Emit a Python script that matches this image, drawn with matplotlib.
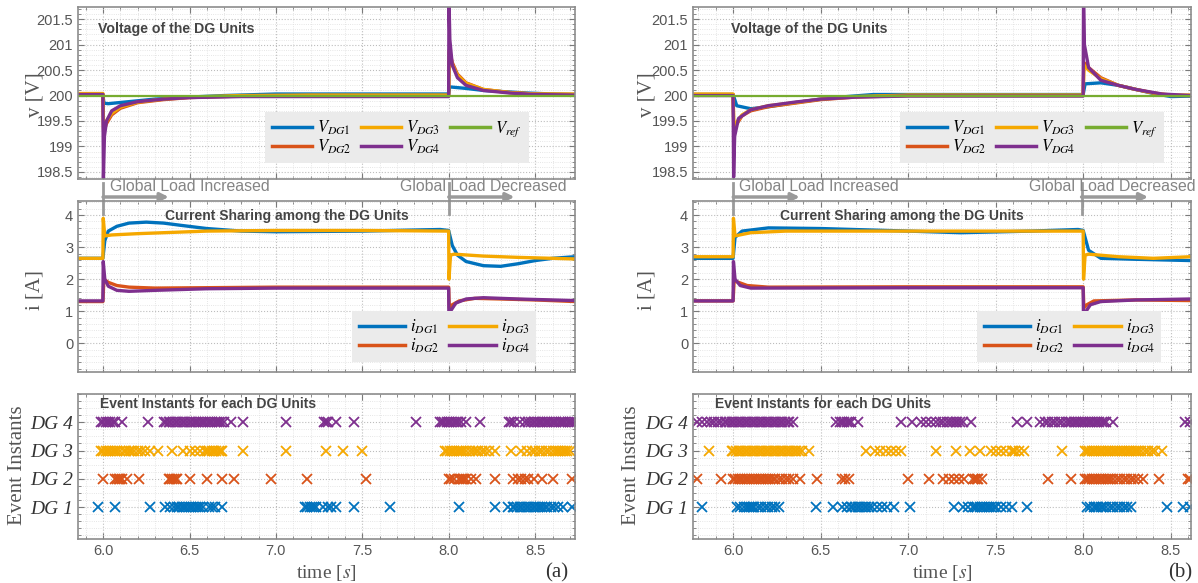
import numpy as np
import matplotlib.pyplot as plt
from matplotlib.ticker import MultipleLocator, FixedLocator, FuncFormatter
from matplotlib.transforms import blended_transform_factory

plt.rcParams['mathtext.fontset'] = 'stix'
plt.rcParams['font.family'] = ['Liberation Sans', 'DejaVu Sans']

c1, c2, c3, c4, cref = '#0072BD', '#D95319', '#F5A800', '#7E2F8E', '#77AC30'
serif = ['Liberation Serif', 'DejaVu Serif']

# ---------------- panel (a) ----------------
xlim_a = (5.855, 8.73)

va_t1 = [5.855, 5.999, 6.005, 6.03, 6.15, 6.3, 6.5, 6.7, 7.0, 7.5, 7.999, 8.005, 8.1, 8.2, 8.3, 8.45, 8.6, 8.73]
va_v1 = [200.02, 200.02, 199.85, 199.84, 199.88, 199.93, 199.97, 200.0, 200.03, 200.03, 200.03, 200.17, 200.14, 200.1, 200.08, 200.05, 200.03, 200.02]
va_t2 = [5.855, 5.999, 6.003, 6.02, 6.05, 6.1, 6.2, 6.35, 6.5, 6.8, 7.2, 7.999, 8.003, 8.02, 8.05, 8.1, 8.2, 8.35, 8.5, 8.73]
va_v2 = [200.03, 200.03, 199.3, 199.45, 199.62, 199.75, 199.86, 199.92, 199.96, 199.99, 200.0, 200.0, 200.9, 200.65, 200.42, 200.25, 200.12, 200.06, 200.03, 200.02]
va_v3 = [200.04, 200.04, 199.35, 199.5, 199.65, 199.77, 199.87, 199.93, 199.97, 200.0, 200.01, 200.01, 200.85, 200.6, 200.4, 200.24, 200.12, 200.06, 200.03, 200.03]
va_t4 = [5.855, 5.999, 6.002, 6.008, 6.02, 6.05, 6.1, 6.2, 6.35, 6.5, 6.8, 7.2, 7.999, 8.001, 8.006, 8.02, 8.05, 8.1, 8.2, 8.35, 8.5, 8.73]
va_v4 = [200.02, 200.02, 198.38, 199.2, 199.5, 199.7, 199.8, 199.88, 199.93, 199.96, 199.98, 199.98, 199.98, 201.9, 201.1, 200.6, 200.35, 200.2, 200.1, 200.05, 200.02, 200.01]

ia_t1 = [5.855, 5.999, 6.01, 6.03, 6.08, 6.15, 6.25, 6.35, 6.45, 6.6, 6.8, 7.0, 7.5, 7.95, 7.999, 8.02, 8.05, 8.1, 8.2, 8.3, 8.4, 8.5, 8.6, 8.73]
ia_v1 = [2.65, 2.65, 3.2, 3.5, 3.65, 3.75, 3.78, 3.75, 3.68, 3.58, 3.5, 3.48, 3.5, 3.55, 3.52, 3.05, 2.75, 2.55, 2.42, 2.4, 2.48, 2.58, 2.65, 2.7]
ia_t2 = [5.855, 5.999, 6.005, 6.03, 6.08, 6.15, 6.3, 7.0, 7.999, 8.003, 8.02, 8.06, 8.15, 8.3, 8.5, 8.73]
ia_v2 = [1.3, 1.3, 2.0, 1.9, 1.8, 1.75, 1.72, 1.75, 1.75, 1.1, 1.2, 1.32, 1.4, 1.38, 1.35, 1.3]
ia_t3 = [5.855, 5.999, 6.001, 6.01, 6.05, 6.2, 6.4, 6.6, 7.0, 7.5, 7.999, 8.001, 8.01, 8.03, 8.2, 8.4, 8.73]
ia_v3 = [2.65, 2.65, 3.9, 3.35, 3.38, 3.42, 3.46, 3.5, 3.52, 3.52, 3.5, 2.0, 2.75, 2.78, 2.72, 2.68, 2.63]
ia_t4 = [5.855, 5.999, 6.001, 6.01, 6.03, 6.08, 6.15, 6.3, 6.6, 7.0, 7.999, 8.001, 8.01, 8.04, 8.1, 8.2, 8.4, 8.73]
ia_v4 = [1.32, 1.32, 2.55, 2.0, 1.78, 1.65, 1.62, 1.65, 1.7, 1.72, 1.72, 0.5, 1.0, 1.25, 1.38, 1.42, 1.38, 1.33]

ev_a_dg1 = [5.97, 6.07, 6.27, 6.36, 6.39, 6.41, 6.43, 6.44, 6.455, 6.47, 6.48, 6.495, 6.51, 6.52, 6.535, 6.55, 6.56,
            6.58, 6.61, 6.63, 6.65, 6.69, 7.17, 7.18, 7.195, 7.21, 7.22, 7.23, 7.27, 7.30, 7.32, 7.35, 7.45, 7.66,
            8.06, 8.27, 8.34, 8.37, 8.38, 8.395, 8.41, 8.42, 8.435, 8.45, 8.46, 8.475, 8.49, 8.50, 8.515, 8.53,
            8.54, 8.555, 8.57, 8.59, 8.61, 8.63, 8.66, 8.71]
ev_a_dg2 = [6.00, 6.07, 6.08, 6.09, 6.10, 6.11, 6.14, 6.21, 6.38, 6.39, 6.40, 6.41, 6.42, 6.43, 6.50, 6.60, 6.69,
            6.76, 6.97, 7.18, 7.52, 8.00, 8.01, 8.03, 8.06, 8.07, 8.08, 8.09, 8.10, 8.13, 8.16, 8.27, 8.37, 8.40,
            8.42, 8.44, 8.46, 8.49, 8.54, 8.60, 8.71]
ev_a_dg3 = [5.99, 6.00, 6.015, 6.03, 6.04, 6.055, 6.07, 6.08, 6.10, 6.12, 6.135, 6.15, 6.16, 6.18, 6.20, 6.22,
            6.24, 6.27, 6.32, 6.40, 6.46, 6.50, 6.53, 6.56, 6.59, 6.60, 6.615, 6.63, 6.64, 6.655, 6.67, 6.68,
            6.69, 6.81, 7.06, 7.29, 7.39, 7.50, 7.98, 7.99, 8.005, 8.02, 8.03, 8.045, 8.06, 8.07, 8.085, 8.10,
            8.12, 8.14, 8.155, 8.17, 8.19, 8.21, 8.23, 8.27, 8.36, 8.42, 8.45, 8.48, 8.50, 8.52, 8.54, 8.56,
            8.58, 8.60, 8.62, 8.63, 8.645, 8.66, 8.67, 8.685, 8.70]
ev_a_dg4 = [5.99, 6.00, 6.015, 6.03, 6.04, 6.055, 6.07, 6.11, 6.26, 6.35, 6.365, 6.38, 6.39, 6.405, 6.42, 6.43,
            6.445, 6.46, 6.47, 6.485, 6.50, 6.51, 6.525, 6.54, 6.55, 6.565, 6.58, 6.59, 6.605, 6.62, 6.63, 6.645,
            6.66, 6.67, 6.685, 6.70, 6.74, 6.81, 7.06, 7.28, 7.29, 7.30, 7.35, 7.45, 7.81, 7.95, 7.96, 7.975,
            7.99, 8.00, 8.015, 8.03, 8.04, 8.055, 8.07, 8.10, 8.18, 8.35, 8.36, 8.375, 8.41, 8.44, 8.46, 8.475,
            8.49, 8.50, 8.515, 8.53, 8.54, 8.555, 8.57, 8.58, 8.595, 8.61, 8.62, 8.635, 8.65, 8.66, 8.675, 8.69,
            8.70, 8.715, 8.73]

# ---------------- panel (b) ----------------
xlim_b = (5.77, 8.615)

vb_t1 = [5.77, 5.999, 6.02, 6.1, 6.2, 6.35, 6.5, 6.65, 6.8, 7.5, 7.999, 8.01, 8.1, 8.2, 8.3, 8.4, 8.5, 8.615]
vb_v1 = [200.02, 200.02, 199.8, 199.74, 199.78, 199.86, 199.93, 199.98, 200.02, 200.02, 200.02, 200.23, 200.25, 200.2, 200.12, 200.04, 199.98, 199.99]
vb_t2 = [5.77, 5.999, 6.003, 6.05, 6.1, 6.2, 6.35, 6.5, 6.7, 7.0, 7.999, 8.003, 8.03, 8.1, 8.2, 8.3, 8.4, 8.5, 8.615]
vb_v2 = [200.02, 200.02, 199.35, 199.6, 199.7, 199.78, 199.85, 199.92, 199.97, 200.0, 200.0, 200.65, 200.55, 200.35, 200.2, 200.12, 200.05, 200.0, 200.0]
vb_v3 = [200.03, 200.03, 199.4, 199.62, 199.72, 199.8, 199.86, 199.93, 199.98, 200.01, 200.01, 200.6, 200.5, 200.33, 200.2, 200.12, 200.05, 200.01, 200.01]
vb_t4 = [5.77, 5.999, 6.002, 6.008, 6.03, 6.1, 6.2, 6.35, 6.5, 6.7, 7.0, 7.999, 8.001, 8.006, 8.03, 8.1, 8.2, 8.3, 8.45, 8.615]
vb_v4 = [200.0, 200.0, 198.4, 199.2, 199.55, 199.72, 199.8, 199.87, 199.93, 199.97, 199.99, 199.99, 201.9, 201.0, 200.55, 200.3, 200.2, 200.12, 200.03, 200.0]

ib_t1 = [5.77, 5.999, 6.01, 6.05, 6.2, 6.5, 7.0, 7.3, 7.7, 7.97, 7.999, 8.03, 8.1, 8.3, 8.615]
ib_v1 = [2.65, 2.65, 3.3, 3.5, 3.6, 3.58, 3.5, 3.45, 3.5, 3.55, 3.52, 2.9, 2.65, 2.62, 2.58]
ib_t2 = [5.77, 5.999, 6.005, 6.03, 6.08, 6.2, 7.0, 7.999, 8.003, 8.02, 8.06, 8.3, 8.615]
ib_v2 = [1.32, 1.32, 1.95, 1.9, 1.8, 1.75, 1.76, 1.76, 1.1, 1.2, 1.32, 1.35, 1.33]
ib_t3 = [5.77, 5.999, 6.001, 6.01, 6.1, 6.3, 7.0, 7.999, 8.001, 8.01, 8.03, 8.2, 8.4, 8.615]
ib_v3 = [2.7, 2.7, 3.9, 3.35, 3.45, 3.5, 3.5, 3.5, 2.0, 2.75, 2.78, 2.7, 2.65, 2.7]
ib_t4 = [5.77, 5.999, 6.001, 6.01, 6.04, 6.1, 7.0, 7.999, 8.001, 8.01, 8.04, 8.1, 8.3, 8.615]
ib_v4 = [1.32, 1.32, 2.55, 2.0, 1.8, 1.72, 1.73, 1.73, 0.55, 0.95, 1.2, 1.3, 1.35, 1.38]

ev_b_dg1 = [5.82, 6.02, 6.04, 6.06, 6.08, 6.09, 6.10, 6.11, 6.12, 6.14, 6.16, 6.18, 6.20, 6.22, 6.24, 6.26, 6.47,
            6.57, 6.62, 6.65, 6.67, 6.68, 6.695, 6.71, 6.72, 6.735, 6.75, 6.76, 6.775, 6.79, 6.82, 6.85, 6.88,
            6.92, 7.01, 7.26, 7.31, 7.34, 7.37, 7.38, 7.395, 7.41, 7.42, 7.435, 7.45, 7.46, 7.475, 7.49, 7.50,
            7.53, 7.56, 7.59, 7.68, 8.02, 8.04, 8.06, 8.07, 8.085, 8.10, 8.11, 8.13, 8.15, 8.17, 8.19, 8.21,
            8.23, 8.25, 8.27, 8.48, 8.57, 8.61]
ev_b_dg2 = [5.79, 5.93, 6.00, 6.01, 6.025, 6.04, 6.05, 6.065, 6.08, 6.09, 6.105, 6.12, 6.13, 6.145, 6.16, 6.17,
            6.185, 6.20, 6.21, 6.225, 6.24, 6.26, 6.28, 6.30, 6.32, 6.34, 6.38, 6.48, 6.62, 6.64, 6.66, 7.00,
            7.12, 7.20, 7.23, 7.26, 7.29, 7.32, 7.37, 7.38, 7.39, 7.40, 7.42, 7.80, 7.93, 8.01, 8.02, 8.035,
            8.05, 8.06, 8.075, 8.09, 8.10, 8.115, 8.13, 8.14, 8.155, 8.17, 8.19, 8.21, 8.23, 8.25, 8.27, 8.29,
            8.31, 8.34, 8.43, 8.60, 8.61]
ev_b_dg3 = [5.86, 5.99, 6.00, 6.015, 6.03, 6.04, 6.055, 6.07, 6.08, 6.095, 6.11, 6.12, 6.135, 6.15, 6.16, 6.175,
            6.19, 6.20, 6.215, 6.23, 6.24, 6.255, 6.27, 6.28, 6.295, 6.31, 6.32, 6.335, 6.35, 6.36, 6.375, 6.39,
            6.43, 6.76, 6.81, 6.84, 6.87, 6.90, 6.93, 6.96, 7.16, 7.27, 7.35, 7.41, 7.47, 7.50, 7.53, 7.56, 7.59,
            7.60, 7.61, 7.63, 7.66, 7.88, 8.01, 8.02, 8.035, 8.05, 8.06, 8.075, 8.09, 8.10, 8.115, 8.13, 8.14,
            8.155, 8.17, 8.18, 8.195, 8.21, 8.22, 8.235, 8.25, 8.26, 8.275, 8.29, 8.30, 8.315, 8.33, 8.35, 8.37,
            8.39, 8.41, 8.45]
ev_b_dg4 = [5.79, 5.82, 5.85, 5.87, 5.89, 5.91, 5.93, 5.95, 5.96, 5.975, 5.99, 6.00, 6.015, 6.03, 6.04, 6.055,
            6.07, 6.08, 6.095, 6.11, 6.12, 6.135, 6.15, 6.16, 6.175, 6.19, 6.20, 6.215, 6.23, 6.24, 6.255, 6.27,
            6.28, 6.295, 6.31, 6.32, 6.34, 6.585, 6.61, 6.62, 6.635, 6.65, 6.66, 6.67, 6.71, 6.96, 7.02, 7.07,
            7.10, 7.13, 7.16, 7.18, 7.20, 7.22, 7.24, 7.255, 7.27, 7.28, 7.295, 7.31, 7.36, 7.62, 7.68, 7.75,
            7.78, 7.80, 7.82, 7.84, 7.86, 7.88, 7.90, 7.92, 7.93, 7.945, 7.96, 7.97, 7.985, 8.00, 8.01, 8.025,
            8.04, 8.05, 8.065, 8.08, 8.09, 8.105, 8.12, 8.13, 8.17, 8.58, 8.61]

v_ticks = [198.5, 199, 199.5, 200, 200.5, 201, 201.5]
i_ticks = [0, 1, 2, 3, 4]
dg_ticks = [1, 2, 3, 4]
dg_labels = ['DG 1', 'DG 2', 'DG 3', 'DG 4']
v_ref = 200

W, H = 1198, 583
fig = plt.figure(figsize=(W / 100, H / 100), dpi=100)


def rect(x0, y0, x1, y1):
    return [x0 / W, 1 - y1 / H, (x1 - x0) / W, (y1 - y0) / H]


def style(ax, xlim, show_x):
    ax.set_xlim(xlim)
    ax.xaxis.set_major_locator(MultipleLocator(0.5))
    ax.xaxis.set_minor_locator(MultipleLocator(0.1))
    ax.tick_params(which='both', direction='in', top=True, right=True,
                   colors='#7a7a7a', labelcolor='#555555', labelsize=10.5)
    ax.tick_params(which='major', length=4)
    ax.tick_params(which='minor', length=2.5)
    if not show_x:
        ax.tick_params(axis='x', labelbottom=False)
    ax.grid(which='major', ls=':', color='#bdbdbd', lw=0.8)
    ax.grid(which='minor', ls=':', color='#dedede', lw=0.6)
    for s in ax.spines.values():
        s.set_color('#8c8c8c')
        s.set_linewidth(1.2)


def leg(ax, anchor, ncol, hl):
    lg = ax.legend(loc='lower left', bbox_to_anchor=anchor, borderaxespad=0, ncol=ncol,
                   fontsize=12, handlelength=hl, handletextpad=0.3, columnspacing=0.6,
                   labelspacing=0.05, borderpad=0.4,
                   facecolor='#ebebeb', edgecolor='none', framealpha=1, fancybox=False)
    for h in lg.get_lines():
        h.set_linewidth(2.5)


panels = [
    dict(x0=78, x1=575, xlim=xlim_a, tag='(a)', tag_x=557, ylab_x=35, ev_ylab_x=18, vt_x=0.04,
         v=[(va_t1, va_v1), (va_t2, va_v2), (va_t2, va_v3), (va_t4, va_v4)],
         i=[(ia_t1, ia_v1), (ia_t2, ia_v2), (ia_t3, ia_v3), (ia_t4, ia_v4)],
         ev=[ev_a_dg1, ev_a_dg2, ev_a_dg3, ev_a_dg4],
         events=(6.0, 8.0), txt=(6.04, 7.715),
         vleg=(0.376, 0.093), ileg=(0.551, 0.058)),
    dict(x0=693, x1=1191, xlim=xlim_b, tag='(b)', tag_x=1180, ylab_x=647, ev_ylab_x=632, vt_x=0.076,
         v=[(vb_t1, vb_v1), (vb_t2, vb_v2), (vb_t2, vb_v3), (vb_t4, vb_v4)],
         i=[(ib_t1, ib_v1), (ib_t2, ib_v2), (ib_t3, ib_v3), (ib_t4, ib_v4)],
         ev=[ev_b_dg1, ev_b_dg2, ev_b_dg3, ev_b_dg4],
         events=(6.0, 7.99), txt=(6.03, 7.69),
         vleg=(0.416, 0.093), ileg=(0.57, 0.058)),
]
colors = [c1, c2, c3, c4]

for p in panels:
    ax_v = fig.add_axes(rect(p['x0'], 7, p['x1'], 179))
    ax_i = fig.add_axes(rect(p['x0'], 201, p['x1'], 372))
    ax_e = fig.add_axes(rect(p['x0'], 394, p['x1'], 539))

    # voltages
    for k, (t, v) in enumerate(p['v']):
        ax_v.plot(t, v, color=colors[k], lw=2.4, label=r'$V_{DG%d}$' % (k + 1))
    ax_v.plot(p['xlim'], [v_ref, v_ref], color=cref, lw=1.6, label=r'$V_{ref}$')
    style(ax_v, p['xlim'], False)
    ax_v.set_ylim(198.36, 201.74)
    ax_v.yaxis.set_major_locator(FixedLocator(v_ticks))
    ax_v.yaxis.set_major_formatter(FuncFormatter(lambda y, _: '%g' % y))
    ax_v.yaxis.set_minor_locator(MultipleLocator(0.1))
    ax_v.text(p['vt_x'], 0.87, 'Voltage of the DG Units', transform=ax_v.transAxes,
              fontsize=10.2, fontweight='bold', color='#444444', va='center')
    leg(ax_v, p['vleg'], 3, 2.4)

    # currents
    for k, (t, v) in enumerate(p['i']):
        ax_i.plot(t, v, color=colors[k], lw=2.4, label=r'$i_{DG%d}$' % (k + 1))
    style(ax_i, p['xlim'], False)
    ax_i.set_ylim(-0.9, 4.44)
    ax_i.yaxis.set_major_locator(FixedLocator(i_ticks))
    ax_i.yaxis.set_minor_locator(MultipleLocator(0.2))
    ax_i.text(0.175, 0.91, 'Current Sharing among the DG Units', transform=ax_i.transAxes,
              fontsize=10, fontweight='bold', color='#444444', va='center')
    leg(ax_i, p['ileg'], 2, 2.8)

    # events
    for k, ev in enumerate(p['ev']):
        ax_e.plot(ev, [dg_ticks[k]] * len(ev), ls='none', marker='x', ms=6.5, mew=1.3,
                  color=colors[k], clip_on=True)
    style(ax_e, p['xlim'], True)
    ax_e.set_ylim(-0.13, 5.0)
    ax_e.yaxis.set_major_locator(FixedLocator(dg_ticks))
    ax_e.yaxis.set_minor_locator(MultipleLocator(0.25))
    ax_e.set_yticklabels(dg_labels, fontfamily=serif, fontstyle='italic', fontsize=14, color='#333333')
    ax_e.text(0.044, 0.93, 'Event Instants for each DG Units', transform=ax_e.transAxes,
              fontsize=10, fontweight='bold', color='#444444', va='center')

    # load change annotations
    tr = blended_transform_factory(ax_i.transData, fig.transFigure)
    for ev_t, tx, word in zip(p['events'], p['txt'], ['Increased', 'Decreased']):
        ax_i.plot([ev_t, ev_t], [1 - 183 / H, 1 - 214 / H], transform=tr, color='#9a9a9a',
                  lw=2, clip_on=False)
        ax_i.annotate('', xy=(ev_t + 0.38, 1 - 197 / H), xytext=(ev_t, 1 - 197 / H),
                      xycoords=tr, textcoords=tr, annotation_clip=False,
                      arrowprops=dict(arrowstyle='-|>', color='#9a9a9a', lw=2.5,
                                      shrinkA=0, shrinkB=0, mutation_scale=12))
        ax_i.text(tx, 1 - 187 / H, 'Global Load ' + word, transform=tr, fontsize=11.4,
                  color='#858585', va='center', ha='left', clip_on=False)

    # axis labels
    fig.text(p['ylab_x'] / W, 1 - 95 / H, 'v [V]', rotation=90, ha='center', va='center',
             fontsize=15, family=serif, color='#555555')
    fig.text(p['ylab_x'] / W, 1 - 290 / H, 'i [A]', rotation=90, ha='center', va='center',
             fontsize=15, family=serif, color='#555555')
    fig.text(p['ev_ylab_x'] / W, 1 - 465 / H, 'Event Instants', rotation=90, ha='center',
             va='center', fontsize=15, family=serif, color='#555555')
    fig.text((p['x0'] + p['x1']) / 2 / W, 1 - 573 / H, r'time [$s$]', ha='center',
             va='center', fontsize=14, family=serif, color='#555555')
    fig.text(p['tag_x'] / W, 1 - 573 / H, p['tag'], ha='center', va='center', fontsize=15,
             family=serif, color='#333333')

fig.savefig('out.png', dpi=100)
